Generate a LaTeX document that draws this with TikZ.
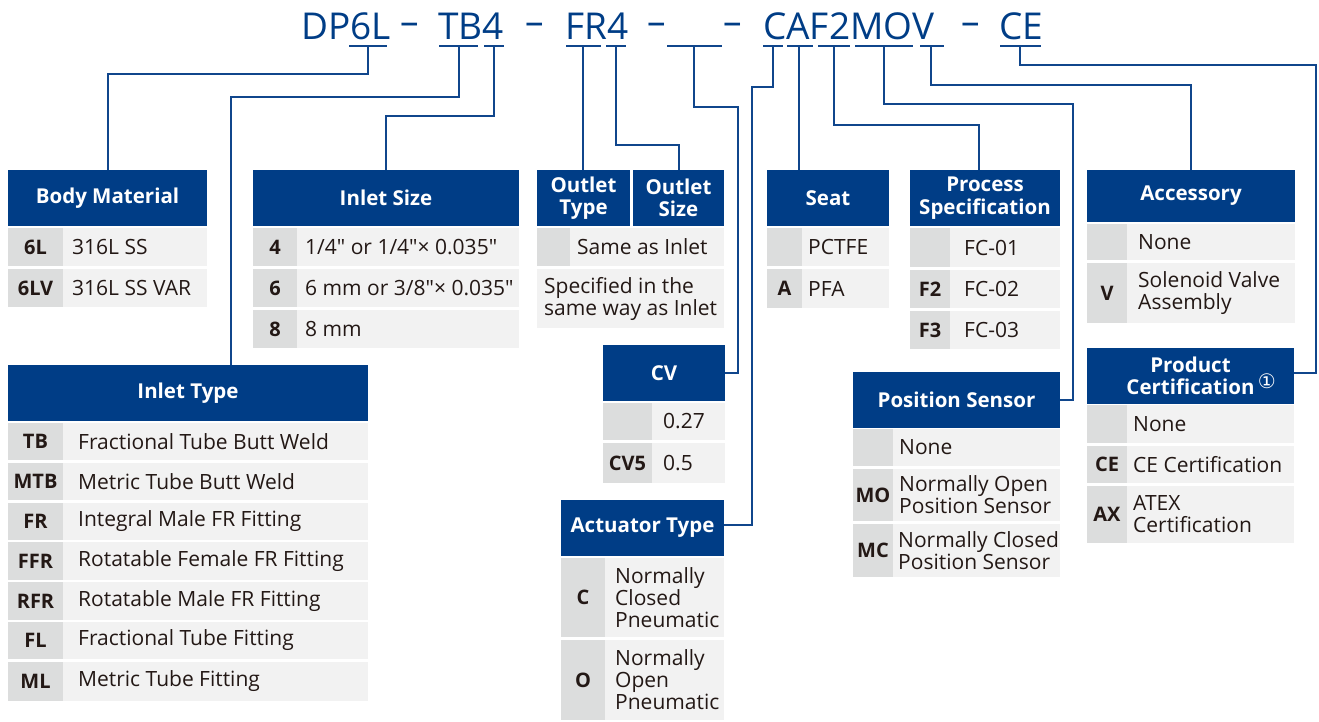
\documentclass[tikz,border=0pt]{standalone}
\usepackage{fontspec}
\setmainfont{Open Sans}[Ligatures=TeXOff]
\newfontfamily\symfont{DejaVu Sans}
\definecolor{hdrblue}{RGB}{0,61,134}
\definecolor{lineblue}{RGB}{16,70,140}
\definecolor{codegray}{RGB}{220,221,221}
\definecolor{descgray}{RGB}{242,242,242}
\definecolor{txt}{RGB}{35,24,21}
\newcommand{\hdr}[6]{\node[hdrsty, minimum width={#4-#2}, minimum height={#5-#3}] (#1) at ({(#2+#4)/2},{(#3+#5)/2}) {#6};}
\newcommand{\trow}[9]{%
  \fill[codegray] (#2,#5) rectangle (#3,#6);
  \fill[descgray] (#3,#5) rectangle (#4,#6);
  \node[codesty] (#1c) at ({(#2+#3)/2},{(#5+#6)/2}) {#7};
  \node[descsty, anchor=west] (#1d) at (#9,{(#5+#6)/2}) {#8};}
\begin{document}
\begin{tikzpicture}[x=1pt,y=-1pt,
  hdrsty/.style={fill=hdrblue, text=white, font=\fontsize{20.5}{22.5}\selectfont\bfseries, align=center, inner sep=0pt},
  codesty/.style={text=txt, font=\fontsize{20}{22}\selectfont\bfseries, inner sep=0pt},
  descsty/.style={text=txt, font=\fontsize{21}{22}\selectfont, align=left, inner sep=0pt},
  conn/.style={draw=lineblue, line width=2pt},
  codetxt/.style={text=hdrblue, font=\fontsize{37}{40}\selectfont, inner sep=0pt, anchor=base west}]
\useasboundingbox (0,0) rectangle (1319,721);

% ---- code line
\node[codetxt] (cDP) at (301,39) {DP6L};
\node[codetxt] (dash1) at (400,39) {\raisebox{5pt}{–}};
\node[codetxt] (cTB) at (438,39) {TB4};
\node[codetxt] (dash2) at (525,39) {\raisebox{5pt}{–}};
\node[codetxt] (cFR) at (565,39) {FR4};
\node[codetxt] (dash3) at (647,39) {\raisebox{5pt}{–}};
\node[codetxt] (dash4) at (723,39) {\raisebox{5pt}{–}};
\node[codetxt] (cCA) at (763,39) {CAF2MOV};
\node[codetxt] (dash5) at (961,39) {\raisebox{5pt}{–}};
\node[codetxt] (cCE) at (999,39) {CE};

% underlines
\draw[conn] (349,46) -- (387,46);
\draw[conn] (439,46) -- (478,46);
\draw[conn] (484,46) -- (504,46);
\draw[conn] (566,46) -- (601,46);
\draw[conn] (606,46) -- (626,46);
\draw[conn] (667,46) -- (722,46);
\draw[conn] (763,46) -- (783,46);
\draw[conn] (787,46) -- (813,46);
\draw[conn] (818,46) -- (850,46);
\draw[conn] (855,46) -- (913,46);
\draw[conn] (920,46) -- (944,46);
\draw[conn] (1000,46) -- (1041,46);
\coordinate (u6L) at (368,46);
\coordinate (uTB) at (459,46);
\coordinate (u4) at (494,46);
\coordinate (uFR) at (583,46);
\coordinate (uF4) at (616,46);
\coordinate (uBL) at (694,46);
\coordinate (uC) at (773,46);
\coordinate (uA) at (799,46);
\coordinate (uF2) at (834,46);
\coordinate (uMO) at (884,46);
\coordinate (uV) at (931,46);
\coordinate (uCE) at (1020,46);

% ---- Body Material
\hdr{bm}{8}{170}{207}{226}{Body Material}
\trow{bmA}{8}{63}{207}{228}{266}{6L}{316L SS}{72}
\trow{bmB}{8}{63}{207}{269}{307}{6LV}{316L SS VAR}{72}

% ---- Inlet Size
\hdr{is}{253}{170}{519}{226}{Inlet Size}
\trow{isA}{253}{297}{519}{228}{266}{4}{1/4" or 1/4"× 0.035"}{305}
\trow{isB}{253}{297}{519}{269}{307}{6}{6 mm or 3/8"× 0.035"}{305}
\trow{isC}{253}{297}{519}{310}{348}{8}{8 mm}{305}

% ---- Outlet
\hdr{ot}{537}{170}{630}{226}{Outlet\\Type}
\hdr{os}{633}{170}{724}{226}{Outlet\\Size}
\trow{otA}{537}{570}{724}{228}{266}{}{Same as Inlet}{577}
\fill[descgray] (537,269) rectangle (724,328);
\node[descsty, anchor=west] (otB) at (544,298.5) {Specified in the\\same way as Inlet};

% ---- Seat
\hdr{seat}{767}{170}{889}{226}{Seat}
\trow{seA}{767}{802}{889}{228}{266}{}{PCTFE}{808}
\trow{seB}{767}{802}{889}{269}{308}{A}{PFA}{808}

% ---- Process Specification
\hdr{pspec}{910}{170}{1060}{226}{Process\\Specification}
\trow{psA}{910}{950}{1060}{228}{267}{}{FC-01}{964}
\trow{psB}{910}{950}{1060}{270}{308}{F2}{FC-02}{964}
\trow{psC}{910}{950}{1060}{311}{349}{F3}{FC-03}{964}

% ---- Accessory
\hdr{acc}{1087}{170}{1295}{222}{Accessory}
\trow{acA}{1087}{1127}{1295}{224}{260}{}{None}{1138}
\trow{acB}{1087}{1127}{1295}{263}{323}{V}{Solenoid Valve\\Assembly}{1138}

% ---- CV
\hdr{cv}{603}{345}{725}{401}{CV}
\trow{cvA}{603}{652}{725}{403}{440}{}{0.27}{663}
\trow{cvB}{603}{652}{725}{443}{483}{CV5}{0.5}{663}

% ---- Actuator Type
\hdr{act}{561}{500}{724}{556}{Actuator Type}
\trow{atA}{561}{605}{724}{558}{637}{C}{Normally\\Closed\\Pneumatic}{615}
\trow{atB}{561}{605}{724}{640}{720}{O}{Normally\\Open\\Pneumatic}{615}

% ---- Position Sensor
\hdr{pos}{853}{372}{1060}{428}{Position Sensor}
\trow{poA}{853}{893}{1060}{429}{466}{}{None}{899}
\trow{poB}{853}{893}{1060}{469}{521}{MO}{Normally Open\\Position Sensor}{899}
\trow{poC}{853}{893}{1060}{524}{577}{MC}{Normally Closed\\Position Sensor}{898}

% ---- Product Certification
\hdr{pc}{1087}{348}{1294}{404}{Product\\Certification\rlap{\,{\symfont\mdseries\fontsize{20}{20}\selectfont\raisebox{6pt}{①}}}}
\trow{pcA}{1087}{1127}{1294}{405}{443}{}{None}{1133}
\trow{pcB}{1087}{1127}{1294}{446}{483}{CE}{CE Certification}{1133}
\trow{pcC}{1087}{1127}{1294}{486}{543}{AX}{ATEX\\Certification}{1133}

% ---- Inlet Type
\hdr{it}{8}{365}{368}{421}{Inlet Type}
\trow{itA}{8}{63}{368}{423}{460}{TB}{Fractional Tube Butt Weld}{78}
\trow{itB}{8}{63}{368}{463}{500}{MTB}{Metric Tube Butt Weld}{78}
\trow{itC}{8}{63}{368}{503}{540}{FR}{Integral Male FR Fitting}{78}
\trow{itD}{8}{63}{368}{542}{580}{FFR}{Rotatable Female FR Fitting}{78}
\trow{itE}{8}{63}{368}{582}{620}{RFR}{Rotatable Male FR Fitting}{78}
\trow{itF}{8}{63}{368}{622}{659}{FL}{Fractional Tube Fitting}{78}
\trow{itG}{8}{63}{368}{662}{701}{ML}{Metric Tube Fitting}{78}

% ---- connectors
\draw[conn] (u6L) -- ++(0,28) -| (bm.north);
\draw[conn] (uTB) -- ++(0,51) -| ([xshift=43pt]it.north);
\draw[conn] (u4) -- ++(0,70) -| (is.north);
\draw[conn] (uFR) -- (uFR |- ot.north);
\draw[conn] (uF4) -- ++(0,99) -| (os.north);
\draw[conn] (uBL) -- ++(0,61) -| ([xshift=13pt]cv.east) -- (cv.east);
\draw[conn] (uC) -- ++(0,41) -| ([xshift=28pt,yshift=3pt]act.east) -- ([yshift=3pt]act.east);
\draw[conn] (uA) -- (uA |- seat.north);
\draw[conn] (uF2) -- ++(0,79) -| ([xshift=-6pt]pspec.north);
\draw[conn] (uMO) -- ++(0,58) -| ([xshift=13pt]pos.east) -- (pos.east);
\draw[conn] (uV) -- ++(0,39) -| (acc.north);
\draw[conn] (uCE) -- ++(0,19) -| ([xshift=22pt,yshift=3pt]pc.east) -- ([yshift=3pt]pc.east);
\end{tikzpicture}
\end{document}
